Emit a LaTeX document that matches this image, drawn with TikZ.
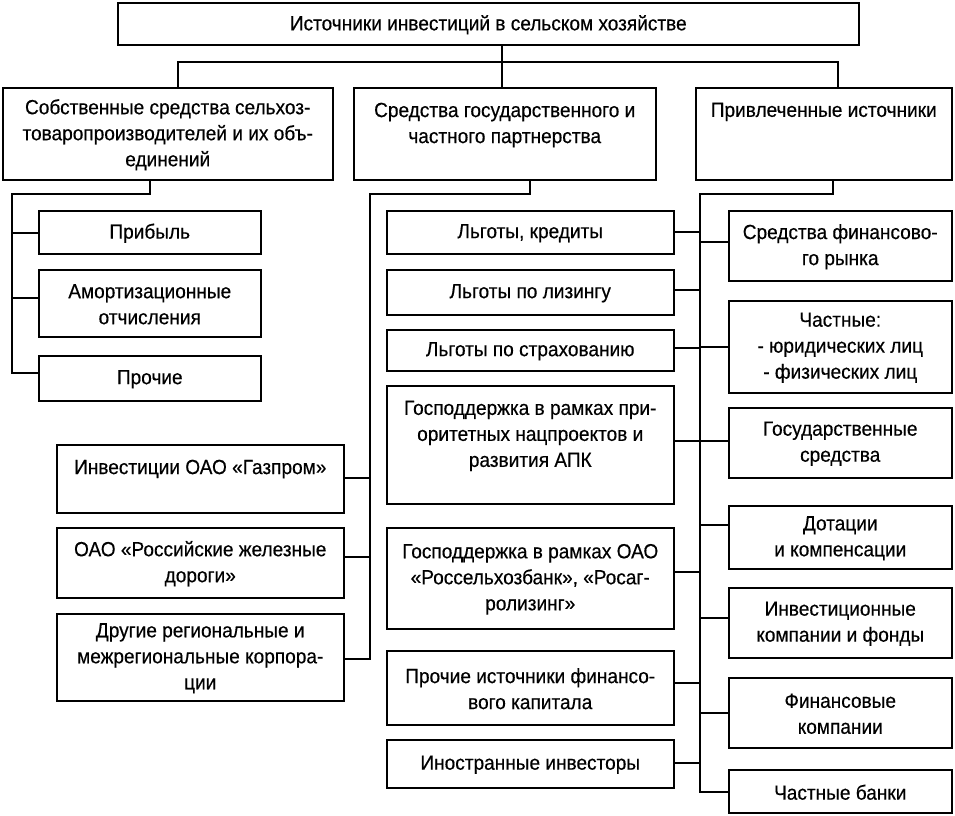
\documentclass[tikz,border=0pt]{standalone}
\usepackage{fontspec}
\setmainfont{Liberation Sans}[FakeStretch=0.93,FakeBold=0.4]
\tikzset{
  bx/.style={draw, line width=1.5pt, inner sep=0pt, anchor=north west, font=\fontsize{20.5}{26}\selectfont},
  ln/.style={line width=1.5pt},
}
\newcommand{\cbox}[3]{\parbox[c][#2pt][c]{#1pt}{\centering\vspace*{2pt}#3\par}}
\newcommand{\tbox}[3]{\parbox[c][#2pt][t]{#1pt}{\vspace*{15pt}\centering #3\par}}
\begin{document}
\begin{tikzpicture}[x=1pt,y=-1pt]
\useasboundingbox (0,0) rectangle (955,815);
% level 0
\node[bx] (top) at (117,2) {\cbox{741}{42}{Источники инвестиций в сельском хозяйстве}};
% level 1
\node[bx] (A) at (2,87) {\cbox{330}{92}{Собственные средства сельхоз-\\товаропроизводителей и их объ-\\единений}};
\node[bx] (B) at (353,87) {\tbox{302}{92}{Средства государственного и\\частного партнерства}};
\node[bx] (C) at (695,87) {\tbox{256}{92}{Привлеченные источники}};
% left column
\node[bx] (prib) at (38,210) {\cbox{222}{43}{Прибыль}};
\node[bx] (amort) at (38,269) {\cbox{222}{67}{Амортизационные\\отчисления}};
\node[bx] (proch) at (38,355) {\cbox{222}{45}{Прочие}};
% left-middle column
\node[bx] (gaz) at (56,444) {\tbox{287}{68}{Инвестиции ОАО «Газпром»}};
\node[bx] (rzd) at (56,527) {\cbox{287}{70}{ОАО «Российские железные\\дороги»}};
\node[bx] (drug) at (56,613) {\cbox{287}{87}{Другие региональные и\\межрегиональные корпора-\\ции}};
% middle column
\node[bx] (lk) at (386,210) {\cbox{287}{43}{Льготы, кредиты}};
\node[bx] (liz) at (386,269) {\cbox{287}{45}{Льготы по лизингу}};
\node[bx] (str) at (386,329) {\cbox{287}{41}{Льготы по страхованию}};
\node[bx] (gp1) at (386,385) {\tbox{287}{118}{Господдержка в рамках при-\\оритетных нацпроектов и\\развития АПК}};
\node[bx] (gp2) at (386,527) {\cbox{287}{101}{Господдержка в рамках ОАО\\«Россельхозбанк», «Росаг-\\ролизинг»}};
\node[bx] (pif) at (386,650) {\cbox{287}{74}{Прочие источники финансо-\\вого капитала}};
\node[bx] (ino) at (386,739) {\cbox{287}{48}{Иностранные инвесторы}};
% right column
\node[bx] (fr) at (728,210) {\cbox{223}{70}{Средства финансово-\\го рынка}};
\node[bx] (chast) at (728,300) {\cbox{223}{92}{Частные:\\- юридических лиц\\- физических лиц}};
\node[bx] (gos) at (728,407) {\cbox{223}{70}{Государственные\\средства}};
\node[bx] (dot) at (728,505) {\cbox{223}{63}{Дотации\\и компенсации}};
\node[bx] (inv) at (728,587) {\cbox{223}{70}{Инвестиционные\\компании и фонды}};
\node[bx] (fk) at (728,677) {\cbox{223}{70}{Финансовые\\компании}};
\node[bx] (pb) at (728,769) {\cbox{223}{43}{Частные банки}};
% connectors top
\coordinate (hL) at (178,62);
\coordinate (hR) at (838,62);
\draw[ln] (top.south -| 502,0) -- (B.north -| 502,0);
\draw[ln] (A.north -| hL) |- (hR) -- (C.north -| hR);
% left group
\coordinate (a1) at (150,194);
\coordinate (a2) at (12,194);
\draw[ln] (A.south -| a1) -- (a1) -- (a2) |- (proch.west |- 0,373);
\draw[ln] (a2) |- (prib.west |- 0,233);
\draw[ln] (a2) |- (amort.west |- 0,298);
% middle group
\coordinate (b1) at (530,194);
\coordinate (b2) at (370,194);
\draw[ln] (B.south -| b1) -- (b1) -- (b2) |- (drug.east |- 0,659);
\draw[ln] (b2) |- (gaz.east |- 0,478);
\draw[ln] (b2) |- (rzd.east |- 0,557);
% right group
\coordinate (c1) at (833,194);
\coordinate (c2) at (700,194);
\draw[ln] (C.south -| c1) -- (c1) -- (c2) |- (pb.west |- 0,792);
\draw[ln] (c2) |- (fr.west |- 0,242);
\draw[ln] (c2) |- (chast.west |- 0,347);
\draw[ln] (c2) |- (gos.west |- 0,441);
\draw[ln] (c2) |- (dot.west |- 0,525);
\draw[ln] (c2) |- (inv.west |- 0,618);
\draw[ln] (c2) |- (fk.west |- 0,713);
\draw[ln] (c2) |- (lk.east |- 0,232);
\draw[ln] (c2) |- (liz.east |- 0,290);
\draw[ln] (c2) |- (str.east |- 0,348);
\draw[ln] (c2) |- (gp1.east |- 0,441);
\draw[ln] (c2) |- (gp2.east |- 0,572);
\draw[ln] (c2) |- (pif.east |- 0,683);
\draw[ln] (c2) |- (ino.east |- 0,763);
\end{tikzpicture}
\end{document}
